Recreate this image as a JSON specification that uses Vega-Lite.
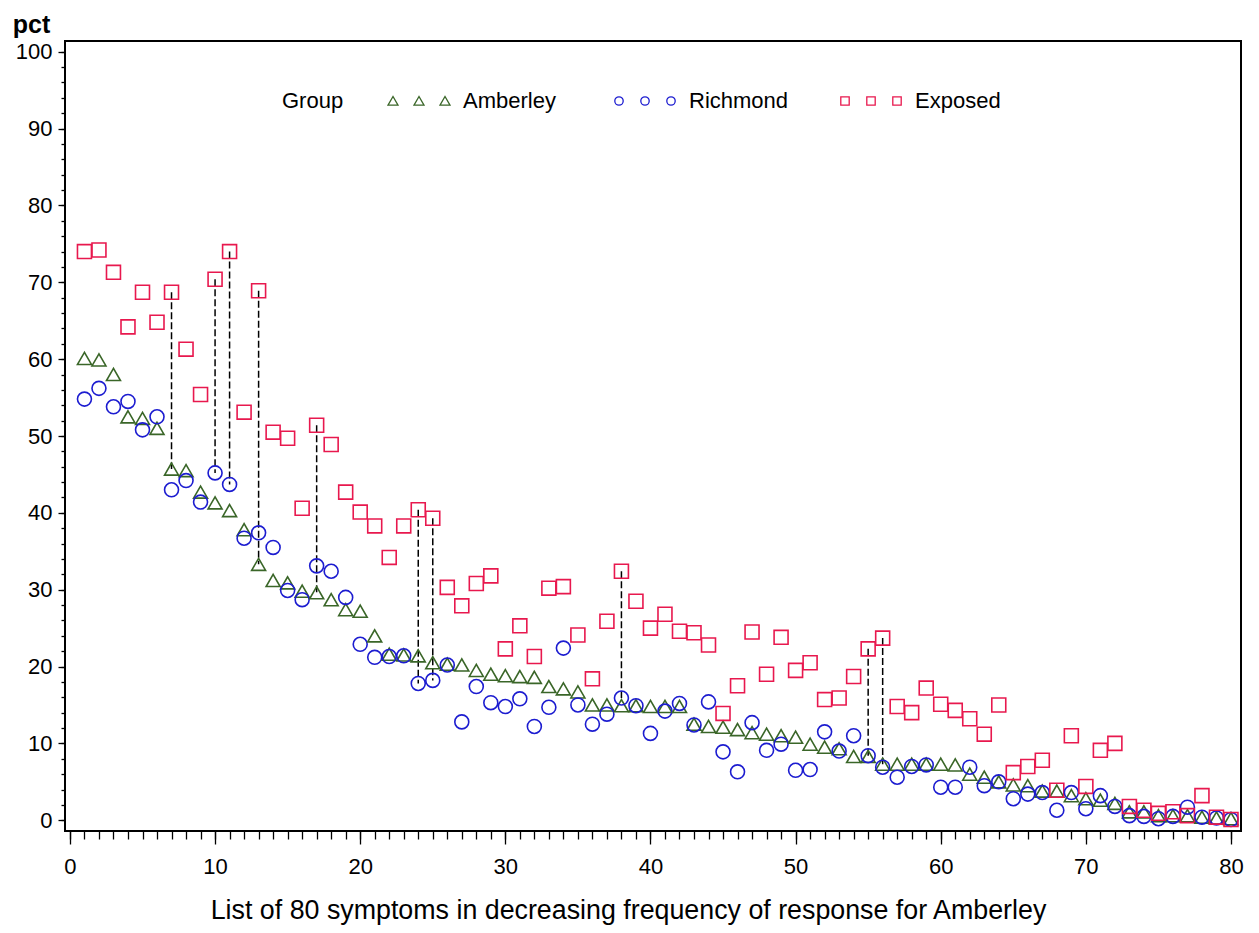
{
  "$schema": "https://vega.github.io/schema/vega-lite/v6.json",
  "width": 1176,
  "height": 790,
  "autosize": {"type": "none"},
  "padding": {"left": 65, "top": 41, "right": 18, "bottom": 102},
  "background": "white",
  "config": {
    "font": "Liberation Sans",
    "view": {"stroke": "black", "strokeWidth": 2},
    "axis": {"grid": false, "domain": false, "tickColor": "black", "labelColor": "black", "titleColor": "black", "tickWidth": 1.3}
  },
  "data": {
    "values": [
      {"symptom": 1, "Amberley": 60.1, "Richmond": 54.8, "Exposed": 74.0},
      {"symptom": 2, "Amberley": 59.9, "Richmond": 56.2, "Exposed": 74.2},
      {"symptom": 3, "Amberley": 58.0, "Richmond": 53.8, "Exposed": 71.3},
      {"symptom": 4, "Amberley": 52.5, "Richmond": 54.5, "Exposed": 64.2},
      {"symptom": 5, "Amberley": 52.3, "Richmond": 50.8, "Exposed": 68.7},
      {"symptom": 6, "Amberley": 51.0, "Richmond": 52.5, "Exposed": 64.8},
      {"symptom": 7, "Amberley": 45.7, "Richmond": 43.0, "Exposed": 68.7, "link": "Amberley"},
      {"symptom": 8, "Amberley": 45.5, "Richmond": 44.2, "Exposed": 61.3},
      {"symptom": 9, "Amberley": 42.7, "Richmond": 41.4, "Exposed": 55.4},
      {"symptom": 10, "Amberley": 41.3, "Richmond": 45.2, "Exposed": 70.4, "link": "Richmond"},
      {"symptom": 11, "Amberley": 40.3, "Richmond": 43.7, "Exposed": 74.0, "link": "Richmond"},
      {"symptom": 12, "Amberley": 37.8, "Richmond": 36.7, "Exposed": 53.1},
      {"symptom": 13, "Amberley": 33.3, "Richmond": 37.4, "Exposed": 68.9, "link": "Amberley"},
      {"symptom": 14, "Amberley": 31.2, "Richmond": 35.5, "Exposed": 50.5},
      {"symptom": 15, "Amberley": 30.9, "Richmond": 29.9, "Exposed": 49.7},
      {"symptom": 16, "Amberley": 29.8, "Richmond": 28.7, "Exposed": 40.6},
      {"symptom": 17, "Amberley": 29.6, "Richmond": 33.1, "Exposed": 51.4, "link": "Amberley"},
      {"symptom": 18, "Amberley": 28.7, "Richmond": 32.4, "Exposed": 48.9},
      {"symptom": 19, "Amberley": 27.4, "Richmond": 29.0, "Exposed": 42.7},
      {"symptom": 20, "Amberley": 27.2, "Richmond": 22.9, "Exposed": 40.1},
      {"symptom": 21, "Amberley": 24.0, "Richmond": 21.2, "Exposed": 38.3},
      {"symptom": 22, "Amberley": 21.6, "Richmond": 21.3, "Exposed": 34.2},
      {"symptom": 23, "Amberley": 21.5, "Richmond": 21.4, "Exposed": 38.3},
      {"symptom": 24, "Amberley": 21.4, "Richmond": 17.8, "Exposed": 40.4, "link": "Richmond"},
      {"symptom": 25, "Amberley": 20.5, "Richmond": 18.2, "Exposed": 39.3, "link": "Richmond"},
      {"symptom": 26, "Amberley": 20.3, "Richmond": 20.2, "Exposed": 30.3},
      {"symptom": 27, "Amberley": 20.2, "Richmond": 12.8, "Exposed": 27.9},
      {"symptom": 28, "Amberley": 19.5, "Richmond": 17.4, "Exposed": 30.8},
      {"symptom": 29, "Amberley": 19.0, "Richmond": 15.3, "Exposed": 31.8},
      {"symptom": 30, "Amberley": 18.8, "Richmond": 14.8, "Exposed": 22.3},
      {"symptom": 31, "Amberley": 18.7, "Richmond": 15.8, "Exposed": 25.3},
      {"symptom": 32, "Amberley": 18.6, "Richmond": 12.2, "Exposed": 21.3},
      {"symptom": 33, "Amberley": 17.4, "Richmond": 14.7, "Exposed": 30.2},
      {"symptom": 34, "Amberley": 17.1, "Richmond": 22.4, "Exposed": 30.4},
      {"symptom": 35, "Amberley": 16.7, "Richmond": 15.0, "Exposed": 24.1},
      {"symptom": 36, "Amberley": 15.0, "Richmond": 12.5, "Exposed": 18.4},
      {"symptom": 37, "Amberley": 15.0, "Richmond": 13.8, "Exposed": 25.9},
      {"symptom": 38, "Amberley": 14.9, "Richmond": 15.9, "Exposed": 32.4, "link": "Richmond"},
      {"symptom": 39, "Amberley": 14.9, "Richmond": 14.9, "Exposed": 28.5},
      {"symptom": 40, "Amberley": 14.8, "Richmond": 11.3, "Exposed": 25.0},
      {"symptom": 41, "Amberley": 14.8, "Richmond": 14.2, "Exposed": 26.8},
      {"symptom": 42, "Amberley": 14.8, "Richmond": 15.2, "Exposed": 24.6},
      {"symptom": 43, "Amberley": 12.5, "Richmond": 12.4, "Exposed": 24.4},
      {"symptom": 44, "Amberley": 12.2, "Richmond": 15.4, "Exposed": 22.8},
      {"symptom": 45, "Amberley": 12.1, "Richmond": 8.9, "Exposed": 13.9},
      {"symptom": 46, "Amberley": 11.8, "Richmond": 6.3, "Exposed": 17.5},
      {"symptom": 47, "Amberley": 11.4, "Richmond": 12.7, "Exposed": 24.5},
      {"symptom": 48, "Amberley": 11.2, "Richmond": 9.1, "Exposed": 19.0},
      {"symptom": 49, "Amberley": 11.0, "Richmond": 9.9, "Exposed": 23.8},
      {"symptom": 50, "Amberley": 10.8, "Richmond": 6.5, "Exposed": 19.5},
      {"symptom": 51, "Amberley": 9.9, "Richmond": 6.6, "Exposed": 20.5},
      {"symptom": 52, "Amberley": 9.5, "Richmond": 11.5, "Exposed": 15.7},
      {"symptom": 53, "Amberley": 9.3, "Richmond": 9.0, "Exposed": 15.9},
      {"symptom": 54, "Amberley": 8.3, "Richmond": 11.0, "Exposed": 18.7},
      {"symptom": 55, "Amberley": 8.3, "Richmond": 8.4, "Exposed": 22.3, "link": "Richmond"},
      {"symptom": 56, "Amberley": 7.3, "Richmond": 6.9, "Exposed": 23.7, "link": "Amberley"},
      {"symptom": 57, "Amberley": 7.3, "Richmond": 5.6, "Exposed": 14.8},
      {"symptom": 58, "Amberley": 7.3, "Richmond": 7.0, "Exposed": 14.0},
      {"symptom": 59, "Amberley": 7.3, "Richmond": 7.2, "Exposed": 17.2},
      {"symptom": 60, "Amberley": 7.3, "Richmond": 4.3, "Exposed": 15.1},
      {"symptom": 61, "Amberley": 7.2, "Richmond": 4.3, "Exposed": 14.3},
      {"symptom": 62, "Amberley": 6.0, "Richmond": 6.9, "Exposed": 13.2},
      {"symptom": 63, "Amberley": 5.6, "Richmond": 4.5, "Exposed": 11.2},
      {"symptom": 64, "Amberley": 5.0, "Richmond": 5.0, "Exposed": 15.0},
      {"symptom": 65, "Amberley": 4.6, "Richmond": 2.8, "Exposed": 6.2},
      {"symptom": 66, "Amberley": 4.5, "Richmond": 3.4, "Exposed": 7.0},
      {"symptom": 67, "Amberley": 3.8, "Richmond": 3.6, "Exposed": 7.8},
      {"symptom": 68, "Amberley": 3.8, "Richmond": 1.3, "Exposed": 3.9},
      {"symptom": 69, "Amberley": 3.2, "Richmond": 3.6, "Exposed": 11.0},
      {"symptom": 70, "Amberley": 2.8, "Richmond": 1.5, "Exposed": 4.4},
      {"symptom": 71, "Amberley": 2.6, "Richmond": 3.2, "Exposed": 9.1},
      {"symptom": 72, "Amberley": 2.2, "Richmond": 1.8, "Exposed": 10.0},
      {"symptom": 73, "Amberley": 1.1, "Richmond": 0.6, "Exposed": 1.8},
      {"symptom": 74, "Amberley": 1.1, "Richmond": 0.5, "Exposed": 1.3},
      {"symptom": 75, "Amberley": 0.6, "Richmond": 0.2, "Exposed": 0.9},
      {"symptom": 76, "Amberley": 0.6, "Richmond": 0.5, "Exposed": 1.1},
      {"symptom": 77, "Amberley": 0.6, "Richmond": 1.7, "Exposed": 0.6},
      {"symptom": 78, "Amberley": 0.4, "Richmond": 0.4, "Exposed": 3.2},
      {"symptom": 79, "Amberley": 0.3, "Richmond": 0.3, "Exposed": 0.4},
      {"symptom": 80, "Amberley": 0.2, "Richmond": 0.1, "Exposed": 0.1}
    ]
  },
  "layer": [
    {
      "transform": [
        {"filter": "datum.link != null"},
        {"calculate": "datum.link === 'Amberley' ? datum.Amberley : datum.Richmond", "as": "linkEnd"}
      ],
      "mark": {"type": "rule", "color": "black", "strokeWidth": 1.5, "strokeDash": [7, 3]},
      "encoding": {
        "x": {
          "field": "symptom", "type": "quantitative",
          "scale": {"domain": [-0.34, 80.69], "nice": false, "zero": false},
          "axis": {
            "orient": "bottom", "title": null, "labels": false, "tickSize": 8,
            "values": [0,1,2,3,4,5,6,7,8,9,10,11,12,13,14,15,16,17,18,19,20,21,22,23,24,25,26,27,28,29,30,31,32,33,34,35,36,37,38,39,40,41,42,43,44,45,46,47,48,49,50,51,52,53,54,55,56,57,58,59,60,61,62,63,64,65,66,67,68,69,70,71,72,73,74,75,76,77,78,79,80]
          }
        },
        "y": {
          "field": "Exposed", "type": "quantitative",
          "scale": {"domain": [-1.4, 101.4], "nice": false, "zero": false},
          "axis": {
            "orient": "left", "title": null, "labels": false, "tickSize": 4,
            "values": [0,2,4,6,8,10,12,14,16,18,20,22,24,26,28,30,32,34,36,38,40,42,44,46,48,50,52,54,56,58,60,62,64,66,68,70,72,74,76,78,80,82,84,86,88,90,92,94,96,98,100]
          }
        },
        "y2": {"field": "linkEnd"}
      }
    },
    {
      "transform": [{"fold": ["Amberley", "Richmond", "Exposed"], "as": ["group", "pct"]}],
      "mark": {"type": "point", "filled": false, "size": 195, "strokeWidth": 1.6, "opacity": 1},
      "encoding": {
        "x": {
          "field": "symptom", "type": "quantitative",
          "scale": {"domain": [-0.34, 80.69], "nice": false, "zero": false},
          "axis": {
            "orient": "bottom", "values": [0, 10, 20, 30, 40, 50, 60, 70, 80], "tickSize": 13,
            "labelFontSize": 22, "labelPadding": 12,
            "title": "List of 80 symptoms in decreasing frequency of response for Amberley",
            "titleFontSize": 26.8, "titleFontWeight": "normal", "titlePadding": 20, "titleX": 563
          }
        },
        "y": {
          "field": "pct", "type": "quantitative",
          "scale": {"domain": [-1.4, 101.4], "nice": false, "zero": false},
          "axis": {
            "orient": "left", "values": [0, 10, 20, 30, 40, 50, 60, 70, 80, 90, 100], "tickSize": 7,
            "labelFontSize": 22, "labelPadding": 6,
            "title": "pct", "titleAngle": 0, "titleAlign": "center", "titleBaseline": "alphabetic",
            "titleX": -34, "titleY": -9, "titleFontSize": 25, "titleFontWeight": "bold"
          }
        },
        "color": {
          "field": "group", "type": "nominal",
          "scale": {"domain": ["Amberley", "Richmond", "Exposed"], "range": ["#3a6628", "#1c1cd0", "#e8184e"]},
          "legend": null
        },
        "shape": {
          "field": "group", "type": "nominal",
          "scale": {"domain": ["Amberley", "Richmond", "Exposed"], "range": ["triangle-up", "circle", "square"]},
          "legend": null
        }
      }
    },
    {
      "transform": [{"fold": ["Amberley", "Richmond", "Exposed"], "as": ["group", "pct"]}],
      "mark": {"type": "point", "filled": false, "opacity": 0},
      "encoding": {
        "x": {"field": "symptom", "type": "quantitative", "scale": {"domain": [-0.34, 80.69], "nice": false, "zero": false}, "axis": null},
        "y": {"field": "pct", "type": "quantitative", "scale": {"domain": [-1.4, 101.4], "nice": false, "zero": false}, "axis": null},
        "color": {
          "field": "group", "type": "nominal", "title": "Group",
          "scale": {"domain": ["Amberley", "Richmond", "Exposed"], "range": ["#3a6628", "#1c1cd0", "#e8184e"]},
          "legend": {
            "orient": "none", "legendX": 217, "legendY": 49, "direction": "horizontal",
            "titleOrient": "left", "titleFontSize": 22, "titleFontWeight": "normal", "titlePadding": 90,
            "labelFontSize": 22, "labelOffset": 7, "columnPadding": 49, "gridAlign": "all",
            "symbolSize": 400, "symbolStrokeWidth": 1.3, "symbolOpacity": 1,
            "labelColor": "black", "titleColor": "black"
          }
        },
        "shape": {
          "field": "group", "type": "nominal", "title": "Group",
          "scale": {
            "domain": ["Amberley", "Richmond", "Exposed"],
            "range": [
              "M-5.2,-0.45L-5.7,0.42L-4.7,0.42Z M-2.6,-0.45L-3.1,0.42L-2.1,0.42Z M0,-0.45L-0.5,0.42L0.5,0.42Z",
              "M-5.62,0A0.42,0.42 0 1,0 -4.78,0A0.42,0.42 0 1,0 -5.62,0Z M-3.02,0A0.42,0.42 0 1,0 -2.18,0A0.42,0.42 0 1,0 -3.02,0Z M-0.42,0A0.42,0.42 0 1,0 0.42,0A0.42,0.42 0 1,0 -0.42,0Z",
              "M-5.62,-0.42H-4.78V0.42H-5.62Z M-3.02,-0.42H-2.18V0.42H-3.02Z M-0.42,-0.42H0.42V0.42H-0.42Z"
            ]
          },
          "legend": {
            "orient": "none", "legendX": 217, "legendY": 49, "direction": "horizontal",
            "titleOrient": "left", "titleFontSize": 22, "titleFontWeight": "normal", "titlePadding": 90,
            "labelFontSize": 22, "labelOffset": 7, "columnPadding": 49, "gridAlign": "all",
            "symbolSize": 400, "symbolStrokeWidth": 1.3, "symbolOpacity": 1,
            "labelColor": "black", "titleColor": "black"
          }
        }
      }
    }
  ],
  "resolve": {
    "axis": {"x": "independent", "y": "independent"},
    "scale": {"color": "independent", "shape": "independent"}
  }
}
